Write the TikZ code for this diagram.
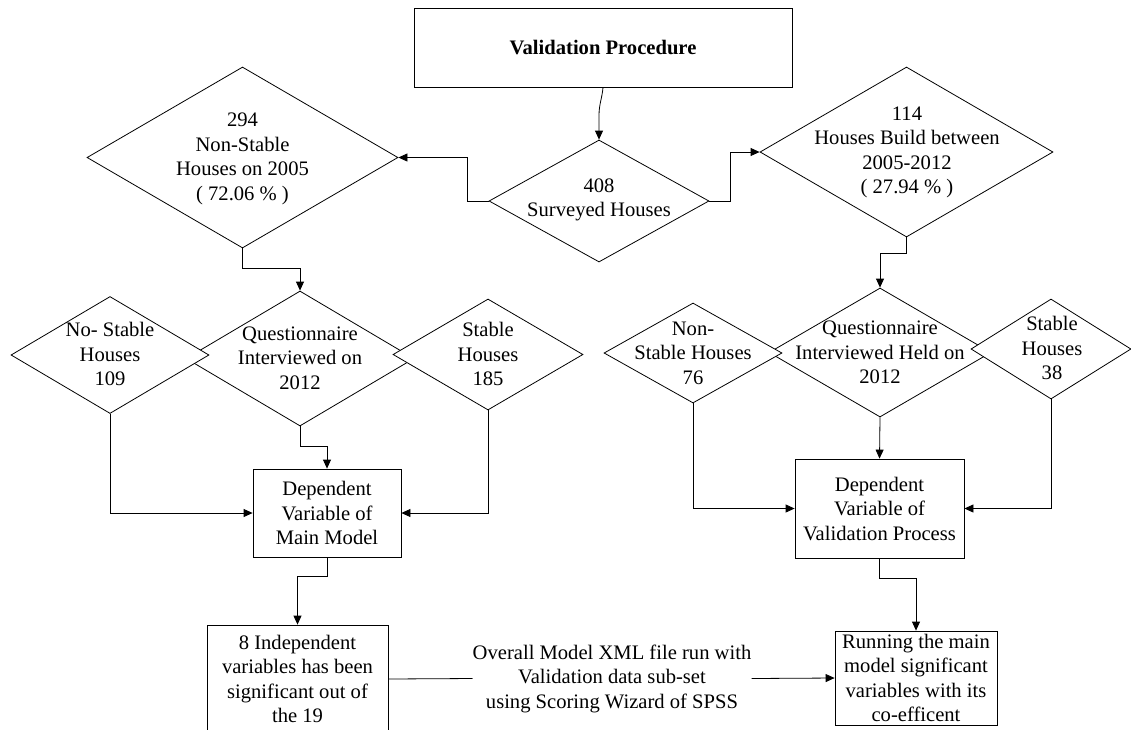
\documentclass[tikz,border=0pt]{standalone}
\usepackage{fontspec}
\setmainfont{Liberation Serif}
\usetikzlibrary{shapes.geometric,arrows.meta}
\begin{document}
\begin{tikzpicture}[x=1pt,y=-1pt,
  every node/.style={font=\fontsize{20.6}{24.5}\selectfont},
  box/.style={draw, fill=white, line width=0.8pt, inner sep=1pt, align=center},
  dia/.style={draw, fill=white, line width=0.8pt, diamond, inner sep=0pt},
  txt/.style={align=center, inner sep=0pt},
  lbl/.style={align=center, inner sep=0pt},
  con/.style={line width=0.8pt},
  arr/.style={line width=0.8pt, -{Triangle[length=9pt,width=8pt]}}]
\useasboundingbox (0,0) rectangle (1131,729);
\clip (0,0) rectangle (1131,729);
\fill[white] (0,0) rectangle (1131,729);

% top box
\node[box, minimum width=378pt, minimum height=79pt] (top) at (603,47.5) {\bfseries Validation Procedure};

% surveyed diamond
\node[dia, minimum width=220pt, minimum height=122pt] (surv) at (599,201) {};
% upper diamonds
\node[dia, minimum width=311pt, minimum height=181pt] (d294) at (242.5,157.5) {};
\node[dia, minimum width=293pt, minimum height=170pt] (d114) at (906.5,152) {};

% left group
\node[dia, minimum width=228pt, minimum height=135pt] (q1) at (300,358.5) {};
\node[dia, minimum width=198pt, minimum height=117pt] (ns1) at (110,355) {};
\node[dia, minimum width=190pt, minimum height=111pt] (s1) at (488,354.5) {};

% right group
\node[dia, minimum width=222pt, minimum height=129pt] (q2) at (880,352.5) {};
\node[dia, minimum width=178pt, minimum height=100pt] (ns2) at (693,353) {};
\node[dia, minimum width=160pt, minimum height=100pt] (s2) at (1051,349) {};

% texts of diamonds
\node[txt] (survt) at (599,200) {408\\Surveyed Houses};
\node[txt] (d294t) at (242.5,159) {294\\Non-Stable\\Houses on 2005\\( 72.06 \% )};
\node[txt] (d114t) at (907,152.5) {114\\Houses Build between\\2005-2012\\( 27.94 \% )};
\node[txt] (q1t) at (300,358) {Questionnaire\\Interviewed on\\2012};
\node[txt] (ns1t) at (110,354) {No- Stable\\Houses\\109};
\node[txt] (s1t) at (488,354) {Stable\\Houses\\185};
\node[txt] (q2t) at (880,352.5) {Questionnaire\\Interviewed Held on\\2012};
\node[txt] (ns2t) at (693,353) {Non-\\Stable Houses\\76};
\node[txt] (s2t) at (1052,348) {Stable\\Houses\\38};

% boxes
\node[box, minimum width=148pt, minimum height=88pt] (dep1) at (327,513) {Dependent\\Variable of\\Main Model};
\node[box, minimum width=169pt, minimum height=99pt] (dep2) at (879.5,508.5) {Dependent\\Variable of\\Validation Process};
\node[box, minimum width=181pt, minimum height=108pt] (ind) at (297.5,679) {8 Independent\\variables has been\\significant out of\\the 19};
\node[box, minimum width=162pt, minimum height=94pt] (run) at (916,678) {Running the main\\model significant\\variables with its\\co-efficent};
\node[lbl] (mid) at (612,678.5) {Overall Model XML file run with\\Validation data sub-set\\using Scoring Wizard of SPSS};

% connectors
\draw[arr] (top.south) to[out=-95,in=90] ++(-4,28) -- (surv.north);
\draw[arr] (surv.west) -- ++(-21,0) |- (d294.east);
\draw[arr] (surv.east) -- ++(21,0) |- (d114.west);
\draw[arr] (d294.south) -- ++(0,20) -| (q1.north);
\draw[arr] (d114.south) -- ++(0,16) -| (q2.north);
\draw[arr] (q1.south) -- ++(0,20) -| (dep1.north);
\draw[arr] (ns1.south) |- (dep1.west);
\draw[arr] (s1.south) |- (dep1.east);
\draw[arr] (q2.south) -- (dep2.north);
\draw[arr] (ns2.south) |- (dep2.west);
\draw[arr] (s2.south) |- (dep2.east);
\draw[arr] (dep1.south) -- ++(0,19) -| (ind.north);
\draw[arr] (dep2.south) -- ++(0,20) -| (run.north);
\draw[con] (ind.east) -- (mid.west);
\draw[arr] (mid.east) -- (run.west);
\end{tikzpicture}
\end{document}
